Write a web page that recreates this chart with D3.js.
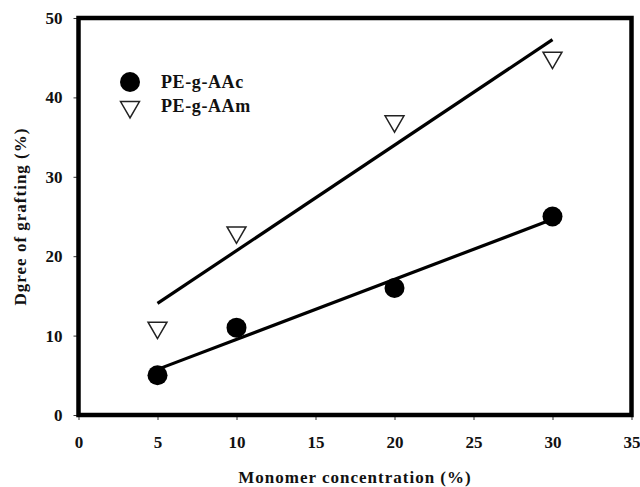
<!DOCTYPE html>
<html>
<head>
<meta charset="utf-8">
<script src="https://cdn.jsdelivr.net/npm/d3@7"></script>
<style>
  html, body { margin: 0; padding: 0; background: #fff; }
  svg { display: block; }
  text { font-family: "Liberation Serif", "Times New Roman", serif; font-weight: bold; fill: #111; }
</style>
</head>
<body>
<script>
// Monomer concentration (%) and degree of grafting (%) for each system
const concentration = [5, 10, 20, 30];
const aacGrafting = [5, 11, 16, 25];
const aamGrafting = [11, 23, 37, 45];
const seriesNames = ["PE-g-AAc", "PE-g-AAm"];
const xTicks = [0, 5, 10, 15, 20, 25, 30, 35];
const yTicks = [0, 10, 20, 30, 40, 50];

const W = 640, H = 487;
const margin = { left: 78.5, right: 8.5, top: 18, bottom: 72 };

const svg = d3.select("body").append("svg").attr("width", W).attr("height", H);

const x = d3.scaleLinear().domain([0, 35]).range([margin.left, W - margin.right]);
const y = d3.scaleLinear().domain([0, 50]).range([H - margin.bottom, margin.top]);

// Least-squares trend line over the measured points
function fit(xs, ys) {
  const n = xs.length;
  const mx = d3.mean(xs), my = d3.mean(ys);
  let sxy = 0, sxx = 0;
  for (let i = 0; i < n; i++) { sxy += (xs[i] - mx) * (ys[i] - my); sxx += (xs[i] - mx) ** 2; }
  const b = sxy / sxx, a = my - b * mx;
  const x0 = d3.min(xs), x1 = d3.max(xs);
  return [[x0, a + b * x0], [x1, a + b * x1]];
}

// Axes
const xAxis = svg.append("g")
  .attr("transform", `translate(0,${y(0)})`)
  .call(d3.axisBottom(x).tickValues(xTicks).tickSize(5).tickPadding(16).tickFormat(d3.format("d")));
const yAxis = svg.append("g")
  .attr("transform", `translate(${x(0)},0)`)
  .call(d3.axisLeft(y).tickValues(yTicks).tickSize(5).tickPadding(11).tickFormat(d3.format("d")));
[xAxis, yAxis].forEach(g => {
  g.select(".domain").remove();
  g.selectAll(".tick line").attr("stroke", "#333").attr("stroke-width", 1);
  g.selectAll(".tick text").attr("font-size", 17).attr("fill", "#111")
    .attr("font-family", "Liberation Serif, serif").attr("font-weight", "bold");
});

// Plot frame
svg.append("rect")
  .attr("x", x(0)).attr("y", y(50))
  .attr("width", x(35) - x(0)).attr("height", y(0) - y(50))
  .attr("fill", "none").attr("stroke", "#000").attr("stroke-width", 4.5);

// Trend lines
const line = d3.line().x(d => x(d[0])).y(d => y(d[1]));
[aacGrafting, aamGrafting].forEach(vals => {
  svg.append("path").attr("d", line(fit(concentration, vals)))
    .attr("fill", "none").attr("stroke", "#000").attr("stroke-width", 3.2);
});

// Markers
const tri = d3.symbol().type(d3.symbolTriangle).size(155);
svg.append("g").selectAll("circle").data(concentration).join("circle")
  .attr("cx", d => x(d)).attr("cy", (d, i) => y(aacGrafting[i]))
  .attr("r", 10).attr("fill", "#000");
svg.append("g").selectAll("path").data(concentration).join("path")
  .attr("d", tri)
  .attr("transform", (d, i) => `translate(${x(d)},${y(aamGrafting[i])}) rotate(180)`)
  .attr("fill", "#fff").attr("stroke", "#222").attr("stroke-width", 1.5);

// Legend
const legend = svg.append("g");
legend.append("circle").attr("cx", 130).attr("cy", 82).attr("r", 10).attr("fill", "#000");
legend.append("path").attr("d", tri)
  .attr("transform", "translate(130,107) rotate(180)")
  .attr("fill", "#fff").attr("stroke", "#222").attr("stroke-width", 1.5);
legend.selectAll("text").data(seriesNames).join("text")
  .attr("x", 161).attr("y", (d, i) => 88 + i * 24)
  .attr("font-size", 18).attr("letter-spacing", 0.6).text(d => d);

// Axis titles
svg.append("text")
  .attr("x", (x(0) + x(35)) / 2).attr("y", 483)
  .attr("text-anchor", "middle").attr("font-size", 17).attr("letter-spacing", 1)
  .text("Monomer concentration (%)");
svg.append("text")
  .attr("transform", `translate(26,${(y(0) + y(50)) / 2}) rotate(-90)`)
  .attr("text-anchor", "middle").attr("font-size", 17).attr("letter-spacing", 1)
  .text("Dgree of grafting (%)");
</script>
</body>
</html>
